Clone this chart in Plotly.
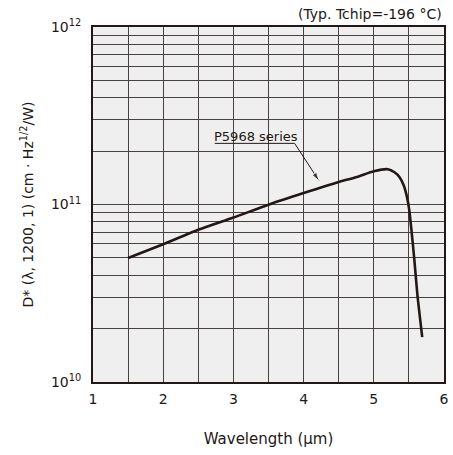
import plotly.graph_objects as go

# Spectral detectivity curve, P5968 series (Tchip = -196 °C)
wavelength_um = [1.5, 2.0, 2.5, 3.0, 3.5, 4.0, 4.5, 4.76, 5.0, 5.2, 5.295, 5.365,
                 5.427, 5.473, 5.506, 5.534, 5.576, 5.622, 5.69]
d_star = [5.0e10, 5.97e10, 7.2e10, 8.44e10, 9.98e10, 1.16e11, 1.34e11, 1.43e11, 1.54e11,
          1.58e11, 1.52e11, 1.43e11, 1.28e11, 1.10e11, 9.27e10, 7.31e10, 4.96e10, 3.08e10, 1.79e10]

series_name = "P5968 series"
note = "(Typ. Tchip=-196 °C)"

# labelled ticks
x_ticks = [1, 2, 3, 4, 5, 6]
y_ticks = [1e10, 1e11, 1e12]
y_tick_labels = ["10<sup>10</sup>", "10<sup>11</sup>", "10<sup>12</sup>"]
# extra grid lines: half-micron steps on x, 2..9 per decade on y
x_minor = [1.5, 2.5, 3.5, 4.5, 5.5]
y_minor = [m * 10 ** e for e in (10, 11) for m in range(2, 10)]

# label underline and leader, ending in an arrowhead on the curve
leader_x = [2.735, 3.872, 4.22]
leader_y = [2.21e11, 2.21e11, 1.36e11]

FONT = "DejaVu Sans"
INK = "#231815"
GRID = "#4a4242"

fig = go.Figure()
fig.add_trace(go.Scatter(
    x=wavelength_um, y=d_star, mode="lines",
    line=dict(color=INK, width=2.6, shape="spline", smoothing=0.6),
    showlegend=False, hoverinfo="skip",
))

fig.add_trace(go.Scatter(
    x=leader_x, y=leader_y, mode="lines+markers",
    line=dict(color=INK, width=1),
    marker=dict(symbol=["circle", "circle", "arrow"], size=[0, 0, 9],
                angleref="previous", color=INK),
    showlegend=False, hoverinfo="skip",
))

fig.update_layout(
    width=453, height=455,
    margin=dict(l=92.5, r=4.5, t=26.7, b=73.3),
    paper_bgcolor="white", plot_bgcolor="#efefef",
    font=dict(family=FONT, size=14, color=INK),
    xaxis=dict(
        range=[1, 6], tickvals=x_ticks, ticks="",
        showgrid=True, gridcolor=GRID, gridwidth=1.2,
        minor=dict(tickvals=x_minor, showgrid=True, gridcolor=GRID, gridwidth=1.2, ticks=""),
        showline=True, linecolor=INK, linewidth=2, mirror=True,
        zeroline=False, ticklabelstandoff=3,
        tickfont=dict(size=14),
        title=dict(text="Wavelength (μm)", standoff=28, font=dict(size=15)),
    ),
    yaxis=dict(
        type="log", range=[10, 12], tickvals=y_ticks, ticktext=y_tick_labels, ticks="",
        showgrid=True, gridcolor=GRID, gridwidth=1.2,
        minor=dict(tickvals=y_minor, showgrid=True, gridcolor=GRID, gridwidth=1.2, ticks=""),
        showline=True, linecolor=INK, linewidth=2, mirror=True,
        zeroline=False, ticklabelstandoff=7,
        tickfont=dict(size=14),
        title=dict(text="D* (λ, 1200, 1) (cm · Hz<sup>1/2</sup>/W)", standoff=14, font=dict(size=14)),
    ),
    annotations=[
        dict(x=3.316, y=11.384, xref="x", yref="y", text=series_name, showarrow=False,
             font=dict(size=13, color=INK)),
        dict(x=1, y=1, xref="paper", yref="paper", xanchor="right", yanchor="bottom",
             yshift=3, text=note, showarrow=False, font=dict(size=14, color=INK)),
    ],
)

fig.write_html("out.html")
